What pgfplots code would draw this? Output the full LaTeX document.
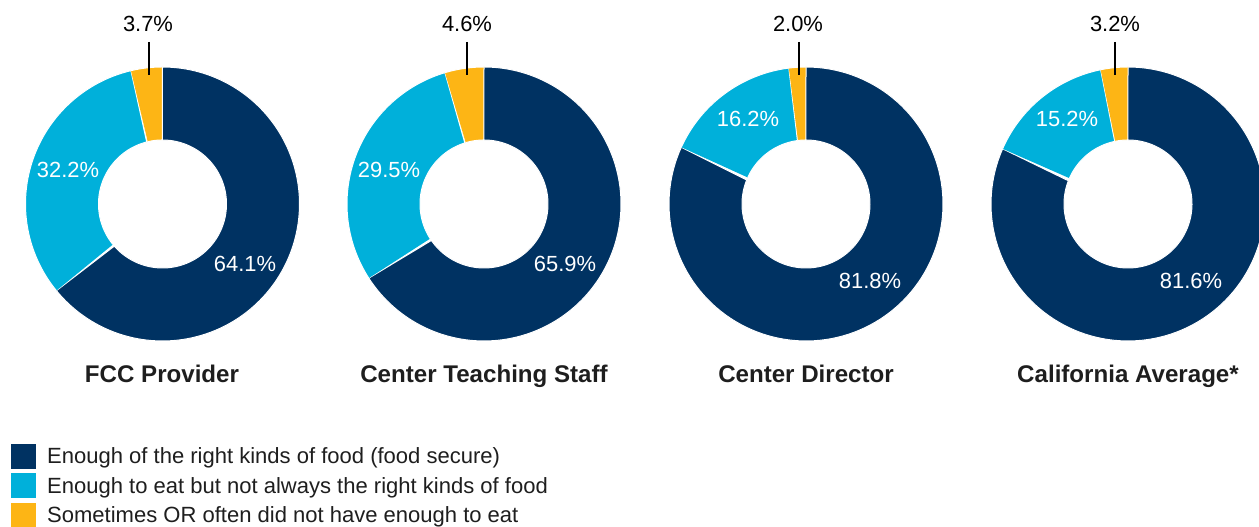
\documentclass[border=0pt]{standalone}
\usepackage{pgfplots}
\pgfplotsset{compat=1.18}
\usepackage{fontspec}
\setmainfont{Liberation Sans}
\definecolor{cNavy}{HTML}{003262}
\definecolor{cCyan}{HTML}{00B0DA}
\definecolor{cGold}{HTML}{FDB515}
\definecolor{cTxt}{HTML}{1E1E1E}
\def\Ro{137}
\def\Ri{64}
\def\Cy{323}
% one donut segment from angle #3 to #4 (degrees), centre (#1,#2)
\newcommand\seg[5]{%
  \edef\temp{\noexpand\addplot[fill=#5, draw=white, line width=1bp, domain=0:2, samples=241, variable=\noexpand\t, forget plot]
   ({#1+((\noexpand\t<1.0001) ? (\Ro*cos(#3+(#4-#3)*\noexpand\t)) : (\Ri*cos(#4+(#3-#4)*(\noexpand\t-1))))},
    {#2+((\noexpand\t<1.0001) ? (\Ro*sin(#3+(#4-#3)*\noexpand\t)) : (\Ri*sin(#4+(#3-#4)*(\noexpand\t-1))))});}%
  \temp}
% donut with centre x #1 and shares #2 (secure), #3 (not right kinds), #4 (not enough)
\newcommand\donut[4]{%
  \pgfmathsetmacro\aA{90-3.6*#2}%
  \pgfmathsetmacro\aB{\aA-3.6*#3}%
  \pgfmathsetmacro\aC{\aB-3.6*#4}%
  \seg{#1}{\Cy}{90}{\aA}{cNavy}%
  \seg{#1}{\Cy}{\aA}{\aB}{cCyan}%
  \seg{#1}{\Cy}{\aB}{\aC}{cGold}%
}
\begin{document}
\begin{tikzpicture}
\begin{axis}[
  hide axis, scale only axis,
  x=1bp, y=1bp,
  xmin=0, xmax=1259, ymin=0, ymax=527,
]
\addplot[draw=none, forget plot] coordinates {(0,0) (1259,527)};
% data: food secure, enough but not right kinds, not enough
\donut{162.5}{64.1}{32.2}{3.7}
\donut{484}{65.9}{29.5}{4.6}
\donut{806}{81.8}{16.2}{2.0}
\donut{1128}{81.6}{15.2}{3.2}
% leader lines
\addplot[black, line width=1.3bp, forget plot] coordinates {(149,485) (149,452)};
\addplot[black, line width=1.3bp, forget plot] coordinates {(467,485) (467,452)};
\addplot[black, line width=1.3bp, forget plot] coordinates {(799,485) (799,452)};
\addplot[black, line width=1.3bp, forget plot] coordinates {(1115,485) (1115,452)};
% value labels
\begin{scope}[every node/.style={font=\fontsize{22}{24}\selectfont, anchor=base, inner sep=0pt}]
\node[black] at (axis cs:148,495) {3.7\%};
\node[white] at (axis cs:68,349) {32.2\%};
\node[white] at (axis cs:245,255) {64.1\%};
\node[black] at (axis cs:467,495) {4.6\%};
\node[white] at (axis cs:389,349) {29.5\%};
\node[white] at (axis cs:565,255) {65.9\%};
\node[black] at (axis cs:798,495) {2.0\%};
\node[white] at (axis cs:748,400) {16.2\%};
\node[white] at (axis cs:870,238) {81.8\%};
\node[black] at (axis cs:1115,495) {3.2\%};
\node[white] at (axis cs:1067,400) {15.2\%};
\node[white] at (axis cs:1191,238) {81.6\%};
\end{scope}
% titles
\begin{scope}[every node/.style={font=\bfseries\fontsize{24.2}{26}\selectfont, text=cTxt, anchor=base, inner sep=0pt}]
\node at (axis cs:162,144) {FCC Provider};
\node at (axis cs:484,144) {Center Teaching Staff};
\node at (axis cs:806,144) {Center Director};
\node at (axis cs:1128,144) {California Average*};
\end{scope}
% legend
\addplot[fill=cNavy, draw=none, forget plot] coordinates {(11,83) (36,83) (36,58) (11,58)} -- cycle;
\addplot[fill=cCyan, draw=none, forget plot] coordinates {(11,54) (36,54) (36,29) (11,29)} -- cycle;
\addplot[fill=cGold, draw=none, forget plot] coordinates {(11,24) (36,24) (36,0) (11,0)} -- cycle;
\begin{scope}[every node/.style={font=\fontsize{22.1}{24}\selectfont, text=cTxt, anchor=base west, inner sep=0pt}]
\node at (axis cs:47,63) {Enough of the right kinds of food (food secure)};
\node at (axis cs:47,33) {Enough to eat but not always the right kinds of food};
\node at (axis cs:47,4) {Sometimes OR often did not have enough to eat};
\end{scope}
\end{axis}
\end{tikzpicture}
\end{document}
